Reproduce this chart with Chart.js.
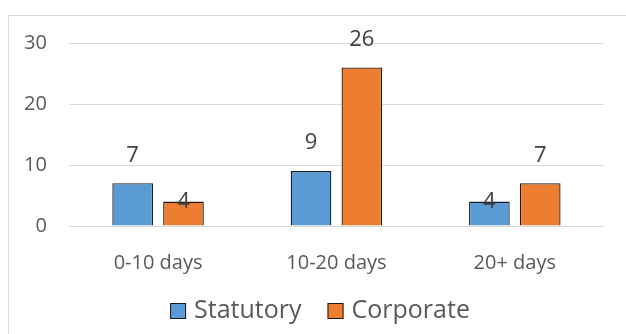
<!DOCTYPE html>
<html>
<head>
<meta charset="utf-8">
<script src="https://cdn.jsdelivr.net/npm/chart.js@4.4.1/dist/chart.umd.min.js"></script>
<style>
  html, body { margin: 0; padding: 0; background: #fff; }
  #wrap { position: relative; width: 626px; height: 334px; overflow: hidden; }
  #frame { position: absolute; left: 8px; top: 15px; width: 700px; height: 400px; border: 1px solid #d9d9d9; }
  canvas { position: absolute; left: 0; top: 0; }
</style>
</head>
<body>
<div id="wrap">
  <div id="frame"></div>
  <canvas id="daysChart" width="626" height="334"></canvas>
</div>
<script>
document.addEventListener('DOMContentLoaded', () => {
  const categories = ['0-10 days', '10-20 days', '20+ days'];
  const statutory = [7, 9, 4];
  const corporate = [4, 26, 7];
  const yTicks = [0, 10, 20, 30];

  const fontFamily = '"Open Sans", "Noto Sans", sans-serif';

  // value labels: most sit above the bar, a few are centred on the bar top
  const valueLabels = {
    id: 'valueLabels',
    afterDatasetsDraw(chart, args, opts) {
      const ctx = chart.ctx;
      ctx.save();
      ctx.font = `${opts.size}px ${fontFamily}`;
      ctx.fillStyle = opts.color;
      ctx.textAlign = 'center';
      ctx.textBaseline = 'middle';
      chart.data.datasets.forEach((ds, di) => {
        const meta = chart.getDatasetMeta(di);
        meta.data.forEach((bar, i) => {
          const onTop = opts.onTop[di][i];
          const y = onTop ? bar.y : bar.y - opts.lift;
          ctx.fillText(String(ds.data[i]), bar.x, y);
        });
      });
      ctx.restore();
    }
  };

  // compact legend row under the axis (tighter box/text gap than the built-in one)
  const bottomLegend = {
    id: 'bottomLegend',
    afterDraw(chart, args, opts) {
      const ctx = chart.ctx;
      ctx.save();
      ctx.font = `${opts.size}px ${fontFamily}`;
      ctx.textBaseline = 'middle';
      const items = chart.data.datasets.map(ds => ({
        text: ds.label,
        fill: ds.backgroundColor,
        width: opts.box + opts.gap + ctx.measureText(ds.label).width
      }));
      const total = items.reduce((s, it) => s + it.width, 0) + opts.spacing * (items.length - 1);
      let x = opts.centerX - total / 2;
      items.forEach(it => {
        ctx.fillStyle = it.fill;
        ctx.fillRect(x, opts.y - opts.box / 2, opts.box, opts.box);
        ctx.strokeStyle = '#1a1a1a';
        ctx.lineWidth = 1;
        ctx.strokeRect(x + 0.5, opts.y - opts.box / 2 + 0.5, opts.box - 1, opts.box - 1);
        ctx.fillStyle = opts.color;
        ctx.fillText(it.text, x + opts.box + opts.gap, opts.y);
        x += it.width + opts.spacing;
      });
      ctx.restore();
    }
  };

  new Chart(document.getElementById('daysChart').getContext('2d'), {
    type: 'bar',
    data: {
      labels: categories,
      datasets: [
        {
          label: 'Statutory',
          data: statutory,
          backgroundColor: '#5B9BD5',
          borderColor: '#17212b',
          borderWidth: 1.3,
          categoryPercentage: 0.57,
          barPercentage: 0.8
        },
        {
          label: 'Corporate',
          data: corporate,
          backgroundColor: '#ED7D31',
          borderColor: '#26170a',
          borderWidth: 1.3,
          categoryPercentage: 0.57,
          barPercentage: 0.8
        }
      ]
    },
    options: {
      responsive: false,
      animation: false,
      layout: { padding: { left: 2, right: 22, top: 43, bottom: 42 } },
      plugins: {
        tooltip: { enabled: false },
        legend: { display: false },
        valueLabels: {
          size: 22,
          color: '#404040',
          lift: 28,
          onTop: [[false, false, true], [true, false, false]]
        },
        bottomLegend: {
          size: 25,
          color: '#595959',
          box: 16,
          gap: 8,
          spacing: 26,
          centerX: 320,
          y: 311
        }
      },
      scales: {
        x: {
          grid: { display: false },
          border: { display: false },
          ticks: {
            color: '#595959',
            font: { family: fontFamily, size: 20 },
            padding: 17
          }
        },
        y: {
          min: 0,
          max: 30,
          afterBuildTicks: axis => { axis.ticks = yTicks.map(v => ({ value: v })); },
          grid: { color: '#d9d9d9', lineWidth: 1, drawTicks: false },
          border: { display: false },
          ticks: {
            color: '#595959',
            font: { family: fontFamily, size: 20 },
            padding: 22
          }
        }
      }
    },
    plugins: [valueLabels, bottomLegend]
  });
});
</script>
</body>
</html>
